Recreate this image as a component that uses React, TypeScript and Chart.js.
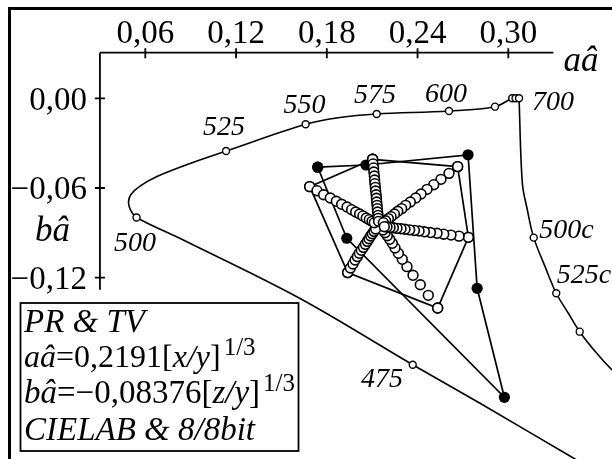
import React, { useEffect, useRef } from "react";
import { Chart, registerables } from "chart.js";

Chart.register(...registerables);

// ---------- data (aâ, bâ) ----------
// spectral locus curve (from beyond 475 nm, through 500, 525 ... 700 nm)
const LOCUS: [number, number][] = [
  [0.3805, -0.2633],
  [0.3441, -0.2413],
  [0.2813, -0.204],
  [0.2368, -0.1782],
  [0.1623, -0.1339],
  [0.0851, -0.0948],
  [0.0542, -0.0797],
  [0.0502, -0.0747],
  [0.0489, -0.0694],
  [0.0505, -0.0643],
  [0.0565, -0.0587],
  [0.0677, -0.0523],
  [0.0896, -0.0436],
  [0.1134, -0.0353],
  [0.166, -0.0174],
  [0.1887, -0.0128],
  [0.213, -0.0105],
  [0.2608, -0.0085],
  [0.2912, -0.0056],
  [0.3026, 0.0],
  [0.3048, 0.0],
  [0.3071, 0.0],
];
// marked wavelengths on the locus: 475, 500, 525, 550, 575, 600, 625, 650, 675, 700
const LOCUS_MARKS: [number, number][] = [
  [0.2368, -0.1782],
  [0.0542, -0.0797],
  [0.1134, -0.0353],
  [0.166, -0.0174],
  [0.213, -0.0105],
  [0.2608, -0.0085],
  [0.2912, -0.0056],
  [0.3026, 0.0],
  [0.3048, 0.0],
  [0.3071, 0.0],
];
// compensative (purple) line from 700 nm
const PURPLE: [number, number][] = [
  [0.3071, 0.0],
  [0.3093, -0.0569],
  [0.3126, -0.0747],
  [0.3168, -0.0932],
  [0.3243, -0.1126],
  [0.3317, -0.1304],
  [0.3397, -0.1438],
  [0.3472, -0.1561],
  [0.3585, -0.1706],
  [0.3686, -0.1817],
  [0.3772, -0.1884],
];
// 500c, 525c, 550c
const PURPLE_MARKS: [number, number][] = [
  [0.3168, -0.0932],
  [0.3317, -0.1304],
  [0.3472, -0.1561],
];
// filled polygon
const GAMUT: [number, number][] = [
  [0.174, -0.0461],
  [0.2059, -0.0446],
  [0.2734, -0.0378],
  [0.2794, -0.1271],
  [0.2974, -0.2],
  [0.1932, -0.0936],
  [0.174, -0.0461],
];
// open hexagon
const HEXAGON: [number, number][] = [
  [0.2103, -0.0408],
  [0.2665, -0.0457],
  [0.2736, -0.093],
  [0.2533, -0.1403],
  [0.1938, -0.1166],
  [0.1687, -0.0591],
  [0.2103, -0.0408],
];
const CENTER: [number, number][] = [[0.2145, -0.0854]];
const RAY_R: [number, number][] = [
  [0.2736, -0.093], [0.2674, -0.0922], [0.2621, -0.0915], [0.2573, -0.0909],
  [0.2529, -0.0903], [0.2485, -0.0898], [0.2445, -0.0893], [0.241, -0.0888],
  [0.2379, -0.0884], [0.2348, -0.088], [0.2317, -0.0876], [0.2291, -0.0873],
  [0.2264, -0.087], [0.224, -0.0866], [0.2218, -0.0864], [0.2198, -0.0861],
  [0.218, -0.0859],
];
const RAY_UR: [number, number][] = [
  [0.2665, -0.0457], [0.2608, -0.0502], [0.2555, -0.0542], [0.2507, -0.0578],
  [0.2463, -0.0609], [0.2423, -0.064], [0.2388, -0.0667], [0.2352, -0.0694],
  [0.2321, -0.0716], [0.2295, -0.0738], [0.2269, -0.0756], [0.2247, -0.0774],
  [0.2225, -0.0792], [0.2207, -0.0805], [0.2189, -0.0819], [0.2174, -0.0832],
];
const RAY_U: [number, number][] = [
  [0.2103, -0.0408], [0.2106, -0.0439], [0.2109, -0.0466], [0.2111, -0.0493],
  [0.2114, -0.052], [0.2116, -0.0547], [0.2118, -0.0571], [0.2121, -0.0596],
  [0.2123, -0.062], [0.2126, -0.0645], [0.2128, -0.0669], [0.213, -0.0694],
  [0.2132, -0.0716], [0.2134, -0.0738], [0.2136, -0.0761], [0.2139, -0.0783],
  [0.214, -0.0803], [0.2142, -0.0823],
];
const RAY_UL: [number, number][] = [
  [0.1687, -0.0591], [0.1735, -0.0618], [0.1779, -0.0645], [0.1823, -0.0667],
  [0.1863, -0.0689], [0.1898, -0.0709], [0.1934, -0.0727], [0.1964, -0.0745],
  [0.1991, -0.0761], [0.2017, -0.0774], [0.2039, -0.0787], [0.2061, -0.0801],
  [0.2081, -0.0812], [0.2099, -0.0823], [0.2114, -0.0832],
];
const RAY_LL: [number, number][] = [
  [0.1938, -0.1166], [0.1956, -0.1135], [0.1973, -0.1108], [0.1987, -0.1082],
  [0.2002, -0.1059], [0.2015, -0.1037], [0.2028, -0.1017], [0.2042, -0.0997],
  [0.2055, -0.0977], [0.2068, -0.0957], [0.2079, -0.0939], [0.209, -0.0921],
  [0.2101, -0.0906], [0.2112, -0.089], [0.2123, -0.0874],
];
const RAY_LR: [number, number][] = [
  [0.2533, -0.1403], [0.2471, -0.1318], [0.2418, -0.1247], [0.237, -0.1184],
  [0.233, -0.1126], [0.2299, -0.1077], [0.2273, -0.1037], [0.2251, -0.1001],
  [0.2233, -0.097], [0.2216, -0.0943], [0.22, -0.0919], [0.2185, -0.0899],
  [0.2172, -0.0881],
];

// wavelength labels and the marker they belong to
const WAVE_LABELS = ["475", "500", "525", "550", "575", "600", "700", "500c", "525c"];
const WAVE_ANCHORS: [number, number][] = [
  LOCUS_MARKS[0], LOCUS_MARKS[1], LOCUS_MARKS[2], LOCUS_MARKS[3],
  LOCUS_MARKS[4], LOCUS_MARKS[5], LOCUS_MARKS[9], PURPLE_MARKS[0], PURPLE_MARKS[1],
];

// axes
const X_TICKS = [0.06, 0.12, 0.18, 0.24, 0.3];
const X_TICK_LABELS = ["0,06", "0,12", "0,18", "0,24", "0,30"];
const Y_TICKS = [0, -0.06, -0.12];
const Y_TICK_LABELS = ["0,00", "\u22120,06", "\u22120,12"];
const X_TITLE = "aâ";
const Y_TITLE = "bâ";

// ---------- layout / style ----------
const W = 612;
const H = 459;
const X_MIN = -0.03607;
const X_MAX = 0.36856;
const Y_MIN = -0.24127;
const Y_MAX = 0.06575;
const AXIS_A = 0.03; // y axis drawn at this aâ
const AXIS_B = 0.0305; // x axis drawn at this bâ
const X_AXIS_END = 0.3298;
const Y_AXIS_END = -0.128;
const LABEL_OFFSETS: [number, number][] = [
  [-30.7, 21.8],
  [-1.5, 34],
  [-2, -16],
  [-1.2, -11],
  [-1.7, -10.7],
  [-3, -9.3],
  [34, 12],
  [32.8, 0.6],
  [27.7, -10.6],
];
const SERIF = '"Liberation Serif", "Times New Roman", serif';

const pts = (arr: [number, number][]) => arr.map(([x, y]) => ({ x, y }));

const overlay = {
  id: "overlay",
  afterDatasetsDraw(chart: any) {
    const ctx: CanvasRenderingContext2D = chart.ctx;
    const xs = chart.scales.x;
    const ys = chart.scales.y;
    const px = (v: number) => xs.getPixelForValue(v);
    const py = (v: number) => ys.getPixelForValue(v);
    ctx.save();
    ctx.strokeStyle = "#000";
    ctx.fillStyle = "#000";

    // frame (top and left)
    ctx.lineWidth = 3;
    ctx.beginPath();
    ctx.moveTo(8, 8.5);
    ctx.lineTo(W, 8.5);
    ctx.moveTo(9.5, 7);
    ctx.lineTo(9.5, H);
    ctx.stroke();

    // axes
    const ax = px(AXIS_A);
    const ay = py(AXIS_B);
    ctx.lineWidth = 1.8;
    ctx.beginPath();
    ctx.moveTo(ax, ay);
    ctx.lineTo(px(X_AXIS_END), ay);
    ctx.moveTo(ax, ay);
    ctx.lineTo(ax, py(Y_AXIS_END));
    X_TICKS.forEach((t) => {
      ctx.moveTo(px(t), ay - 4.5);
      ctx.lineTo(px(t), ay + 5.5);
    });
    Y_TICKS.forEach((t) => {
      ctx.moveTo(ax - 5, py(t));
      ctx.lineTo(ax + 5, py(t));
    });
    ctx.stroke();

    ctx.font = `33px ${SERIF}`;
    ctx.textBaseline = "alphabetic";
    ctx.textAlign = "center";
    X_TICKS.forEach((t, i) => ctx.fillText(X_TICK_LABELS[i], px(t), ay - 10));
    ctx.textAlign = "right";
    Y_TICKS.forEach((t, i) => ctx.fillText(Y_TICK_LABELS[i], ax - 13, py(t) + 11.5));

    ctx.font = `italic 35px ${SERIF}`;
    ctx.textAlign = "left";
    ctx.fillText(X_TITLE, px(X_AXIS_END) + 10, ay + 18);
    ctx.fillText(Y_TITLE, 35, py(-0.0955));

    // wavelength labels
    ctx.font = `italic 28px ${SERIF}`;
    ctx.textAlign = "center";
    WAVE_LABELS.forEach((lab, i) => {
      const [a, b] = WAVE_ANCHORS[i];
      const [dx, dy] = LABEL_OFFSETS[i];
      ctx.fillText(lab, px(a) + dx, py(b) + dy);
    });

    // legend box
    ctx.fillStyle = "#fff";
    ctx.fillRect(20.5, 303, 278, 148);
    ctx.lineWidth = 1.8;
    ctx.strokeRect(20.5, 303, 278, 148);
    ctx.fillStyle = "#000";
    ctx.textAlign = "left";
    const runs = (x: number, y: number, parts: [string, string, number, number][]) => {
      let cx = x;
      parts.forEach(([txt, font, dy, gap]) => {
        ctx.font = font;
        cx += gap;
        ctx.fillText(txt, cx, y + dy);
        cx += ctx.measureText(txt).width;
      });
    };
    const IT = `italic 33px ${SERIF}`;
    const IT2 = `italic 32px ${SERIF}`;
    const RG2 = `32px ${SERIF}`;
    const IT3 = `italic 33px ${SERIF}`;
    const RG3 = `33px ${SERIF}`;
    const SUP = `25px ${SERIF}`;
    runs(24, 331.5, [["PR & TV", IT, 0, 0]]);
    runs(24, 366.5, [
      ["aâ", IT2, 0, 0],
      ["=0,2191[", RG2, 0, 0],
      ["x/y", IT2, 0, 0],
      ["]", RG2, 0, 0],
      ["1/3", SUP, -12, 3],
    ]);
    runs(24, 403, [
      ["bâ", IT3, 0, 0],
      ["=\u22120,08376[", RG3, 0, 0],
      ["z/y", IT3, 0, 0],
      ["]", RG3, 0, 0],
      ["1/3", SUP, -12, 3],
    ]);
    runs(24, 440, [["CIELAB & 8/8bit", IT, 0, 0]]);
    ctx.restore();
  },
};

export default function App() {
  const ref = useRef<HTMLCanvasElement>(null);
  useEffect(() => {
    document.body.style.margin = "0";
    if (!ref.current) return;
    const open = (r: number, bw: number) => ({
      pointRadius: r,
      pointHoverRadius: r,
      pointBackgroundColor: "#fff",
      pointBorderColor: "#000",
      pointBorderWidth: bw,
      pointStyle: "circle",
    });
    const ray = (arr: [number, number][]) => ({
      data: pts(arr),
      showLine: false,
      order: 1,
      ...open(4.9, 1.6),
    });
    const chart = new Chart(ref.current, {
      type: "scatter",
      data: {
        datasets: [
          ray(RAY_R),
          ray(RAY_UR),
          ray(RAY_U),
          ray(RAY_UL),
          ray(RAY_LL),
          ray(RAY_LR),
          { data: pts(CENTER), showLine: false, order: 1, ...open(4.9, 1.6) },
          {
            data: pts(GAMUT),
            showLine: true,
            borderColor: "#000",
            borderWidth: 1.7,
            tension: 0,
            order: 3,
            pointRadius: 5.6,
            pointHoverRadius: 5.6,
            pointBackgroundColor: "#000",
            pointBorderColor: "#000",
            pointBorderWidth: 0,
          },
          {
            data: pts(HEXAGON),
            showLine: true,
            borderColor: "#000",
            borderWidth: 1.7,
            tension: 0,
            order: 4,
            ...open(4.9, 1.6),
          },
          { data: pts(PURPLE_MARKS), showLine: false, order: 5, ...open(3.5, 1.4) },
          {
            data: pts(PURPLE),
            showLine: true,
            borderColor: "#000",
            borderWidth: 1.6,
            tension: 0.35,
            pointRadius: 0,
            order: 6,
          },
          { data: pts(LOCUS_MARKS), showLine: false, order: 5, ...open(3.5, 1.4) },
          {
            data: pts(LOCUS),
            showLine: true,
            borderColor: "#000",
            borderWidth: 1.6,
            tension: 0.35,
            pointRadius: 0,
            order: 6,
          },
        ],
      },
      options: {
        responsive: false,
        animation: false,
        devicePixelRatio: 1,
        events: [],
        layout: { padding: 0, autoPadding: false },
        plugins: { legend: { display: false }, tooltip: { enabled: false } },
        scales: {
          x: { type: "linear", min: X_MIN, max: X_MAX, display: false },
          y: { type: "linear", min: Y_MIN, max: Y_MAX, display: false },
        },
      },
      plugins: [overlay],
    } as any);
    return () => chart.destroy();
  }, []);
  return <canvas ref={ref} width={W} height={H} style={{ display: "block" }} />;
}
